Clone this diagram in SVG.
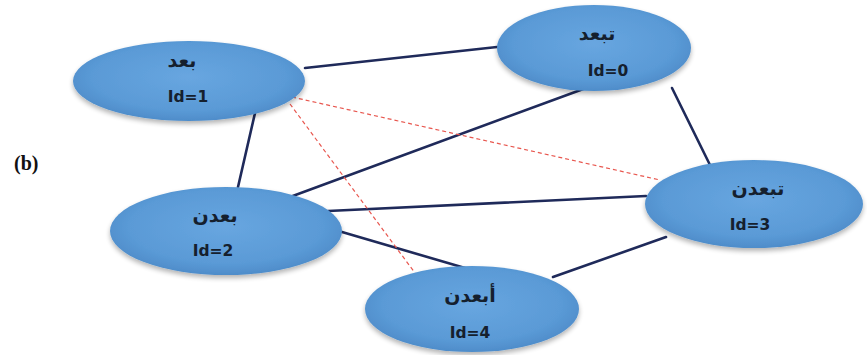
<svg xmlns="http://www.w3.org/2000/svg" width="867" height="355" viewBox="0 0 867 355">
  <style>
    .node { fill: url(#blueFill); filter: url(#soft); }
    .word { font-family: "DejaVu Sans", "Noto Sans", sans-serif; font-weight: bold; font-size: 19px; fill: #15202e; text-anchor: middle; }
    .ident { font-family: "DejaVu Sans", "Liberation Sans", sans-serif; font-weight: bold; font-size: 15.5px; fill: #15202e; text-anchor: middle; }
    .edge { stroke: #1f2a5a; stroke-width: 2.6; fill: none; stroke-linecap: round; }
    .weak { stroke: #e8574f; stroke-width: 1.2; fill: none; stroke-dasharray: 4 3; }
    .tag { font-family: "Liberation Serif", serif; font-weight: bold; font-size: 20px; fill: #111; }
  </style>
  <defs>
    <radialGradient id="blueFill" cx="50%" cy="45%" r="60%">
      <stop offset="0%" stop-color="#68a6e0"/>
      <stop offset="70%" stop-color="#5a9ad6"/>
      <stop offset="100%" stop-color="#4a87c5"/>
    </radialGradient>
    <filter id="soft" x="-10%" y="-15%" width="120%" height="140%">
      <feGaussianBlur in="SourceAlpha" stdDeviation="2.5"/>
      <feOffset dx="0" dy="3" result="b"/>
      <feComponentTransfer><feFuncA type="linear" slope="0.3"/></feComponentTransfer>
      <feMerge><feMergeNode/><feMergeNode in="SourceGraphic"/></feMerge>
    </filter>
  </defs>
  <rect width="867" height="355" fill="#ffffff"/>

  <text class="tag" x="14" y="170">(b)</text>

  <g id="connectors">
    <line class="edge" x1="305" y1="68" x2="497" y2="47"/>
    <line class="edge" x1="255" y1="113" x2="238" y2="187"/>
    <line class="edge" x1="586" y1="88" x2="290" y2="197"/>
    <line class="edge" x1="672" y1="88" x2="710" y2="165"/>
    <line class="edge" x1="328" y1="211" x2="646" y2="196"/>
    <line class="edge" x1="342" y1="232" x2="465" y2="268"/>
    <line class="edge" x1="666" y1="237" x2="553" y2="277"/>
    <line class="weak" x1="292" y1="97" x2="660" y2="180"/>
    <line class="weak" x1="290" y1="104" x2="415" y2="273"/>
  </g>

  <g id="node-1">
    <ellipse class="node" cx="189" cy="81" rx="116" ry="40"/>
    <text class="word" x="182" y="67">بعد</text>
    <text class="ident" x="188" y="102">Id=1</text>
  </g>
  <g id="node-0">
    <ellipse class="node" cx="594" cy="48" rx="97" ry="43"/>
    <text class="word" x="597" y="40">تبعد</text>
    <text class="ident" x="608" y="76">Id=0</text>
  </g>
  <g id="node-2">
    <ellipse class="node" cx="226" cy="231" rx="116" ry="44"/>
    <text class="word" x="215" y="222">بعدن</text>
    <text class="ident" x="213" y="256">Id=2</text>
  </g>
  <g id="node-3">
    <ellipse class="node" cx="754" cy="204" rx="109" ry="44"/>
    <text class="word" x="758" y="195">تبعدن</text>
    <text class="ident" x="750" y="230">Id=3</text>
  </g>
  <g id="node-4">
    <ellipse class="node" cx="472" cy="309" rx="107" ry="43"/>
    <text class="word" x="470" y="302">أبعدن</text>
    <text class="ident" x="470" y="338">Id=4</text>
  </g>
</svg>
